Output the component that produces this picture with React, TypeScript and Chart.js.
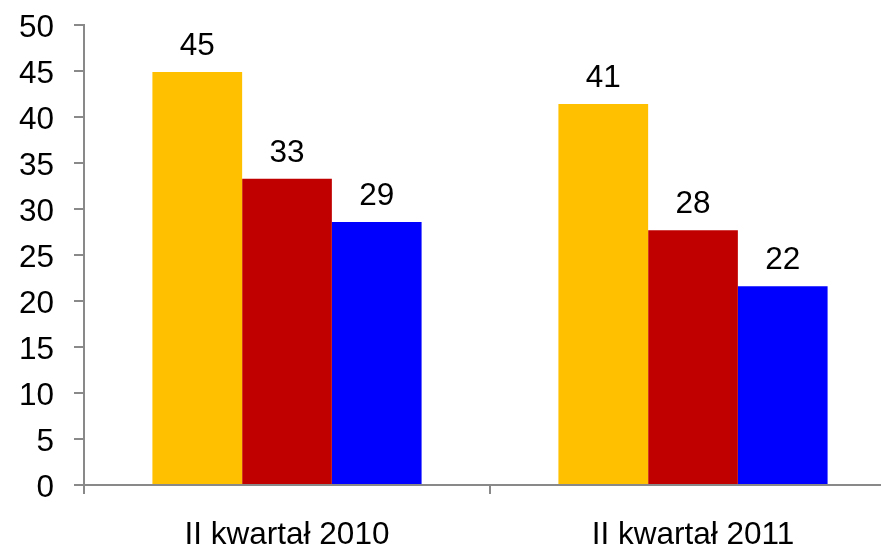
import React, { useEffect, useRef } from "react";
import { Chart, registerables } from "chart.js";

Chart.register(...registerables);

const categories = ["II kwartał 2010", "II kwartał 2011"];
const seriesYellow = [44.9, 41.4];
const seriesRed = [33.3, 27.7];
const seriesBlue = [28.6, 21.6];
const yTickMin = 0;
const yTickMax = 50;
const yTickStep = 5;

const FONT = "'Liberation Sans', Arial, sans-serif";
const FONT_SIZE = 31.5;
const AXIS_GREY = "#898989";

const valueLabels = {
  id: "valueLabels",
  afterDatasetsDraw(chart: any) {
    const ctx = chart.ctx;
    ctx.save();
    ctx.fillStyle = "#000";
    ctx.font = `${FONT_SIZE}px ${FONT}`;
    ctx.textAlign = "center";
    ctx.textBaseline = "alphabetic";
    chart.data.datasets.forEach((ds: any, i: number) => {
      const meta = chart.getDatasetMeta(i);
      meta.data.forEach((bar: any, j: number) => {
        const v = ds.data[j];
        ctx.fillText(String(Math.round(v)), bar.x, bar.y - 17);
      });
    });
    ctx.restore();
  },
};

export default function App() {
  const ref = useRef<HTMLCanvasElement>(null);
  useEffect(() => {
    if (!ref.current) return;
    const chart = new Chart(ref.current, {
      type: "bar",
      data: {
        labels: categories,
        datasets: [
          { data: seriesYellow, backgroundColor: "#FFC000" },
          { data: seriesRed, backgroundColor: "#C00000" },
          { data: seriesBlue, backgroundColor: "#0000FF" },
        ],
      },
      options: {
        responsive: false,
        animation: false,
        devicePixelRatio: 1,
        layout: { padding: { top: 25, left: 0, right: 0, bottom: 0 } },
        plugins: { legend: { display: false }, tooltip: { enabled: false } },
        datasets: { bar: { categoryPercentage: 0.663, barPercentage: 1 } },
        scales: {
          x: {
            grid: {
              offset: true,
              drawOnChartArea: false,
              drawTicks: true,
              tickLength: 9,
              color: AXIS_GREY,
              lineWidth: 2,
            },
            border: { display: true, color: AXIS_GREY, width: 2 },
            ticks: {
              color: "#000",
              font: { family: FONT, size: FONT_SIZE },
              padding: 22,
              maxRotation: 0,
            },
            afterFit: (s: any) => {
              s.height = 64;
              s.paddingLeft = 0;
              s.paddingRight = 0;
            },
          },
          y: {
            min: yTickMin,
            max: yTickMax,
            ticks: {
              stepSize: yTickStep,
              color: "#000",
              font: { family: FONT, size: FONT_SIZE },
              padding: 20,
              labelOffset: 3,
            },
            grid: {
              drawOnChartArea: false,
              drawTicks: true,
              tickLength: 10,
              color: AXIS_GREY,
              lineWidth: 2,
            },
            border: { display: true, color: AXIS_GREY, width: 2 },
            afterFit: (s: any) => {
              s.width = 84;
              s.paddingTop = 0;
              s.paddingBottom = 0;
            },
          },
        },
      },
      plugins: [valueLabels],
    });
    return () => chart.destroy();
  }, []);
  return (
    <div
      style={{
        position: "absolute",
        left: 0,
        top: 0,
        width: 881,
        height: 549,
        overflow: "hidden",
        background: "#fff",
      }}
    >
      <canvas ref={ref} width={896} height={549} style={{ display: "block" }} />
    </div>
  );
}
